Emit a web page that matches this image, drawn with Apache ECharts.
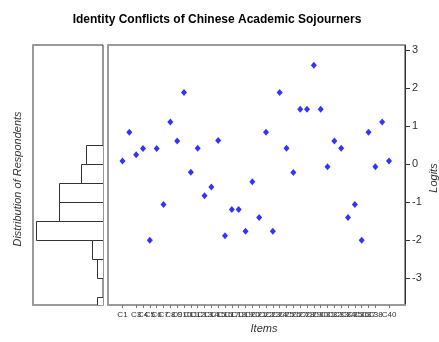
<!DOCTYPE html>
<html>
<head>
<meta charset="utf-8">
<script src="https://cdn.jsdelivr.net/npm/echarts@6/dist/echarts.min.js"></script>
<style>
  html, body { margin: 0; padding: 0; background: #fff; }
  #chart { width: 439px; height: 342px; }
</style>
</head>
<body>
<div id="chart"></div>
<script>
// Item names along the bottom axis
const itemLabels = [
  'C1','C2','C3','C4','C5','C6','C7','C8','C9','C10',
  'C11','C12','C13','C14','C15','C16','C17','C18','C19','C20',
  'C21','C22','C23','C24','C25','C26','C27','C28','C29','C30',
  'C31','C32','C33','C34','C35','C36','C37','C38','C39','C40'
];

// Item difficulty estimates (logits), one per item
const itemLogits = [
  0.08, 0.84, 0.25, 0.41, -2.00, 0.41, -1.06, 1.11, 0.61, 1.88,
  -0.21, 0.42, -0.83, -0.60, 0.62, -1.88, -1.19, -1.19, -1.76, -0.46,
  -1.40, 0.84, -1.76, 1.88, 0.42, -0.22, 1.44, 1.44, 2.60, 1.44,
  -0.07, 0.61, 0.42, -1.40, -1.06, -2.00, 0.84, -0.07, 1.11, 0.08
];

// Respondent ability histogram: bin edges (logits) and counts
const binLower  = [0, -0.5, -1.0, -1.5, -2.0, -2.5, -3.0, -4.0];
const binUpper  = [0.5, 0, -0.5, -1.0, -1.5, -2.0, -2.5, -3.5];
const binCounts = [3, 4, 8, 8, 12, 2, 1, 1];

// Logit tick marks on the right axis
const logitTicks = [-3, -2, -1, 0, 1, 2, 3];

const itemPositions = itemLabels.map((_, i) => i + 1);
const FONT = 'Liberation Sans, Arial, Helvetica, sans-serif';
const LOGIT_MIN = -3.7, LOGIT_MAX = 3.13;

const chart = echarts.init(document.getElementById('chart'), null, { renderer: 'canvas' });

const frameGray = { color: '#9a9a9a', width: 2 };

chart.setOption({
  animation: false,
  backgroundColor: '#fff',
  grid: [
    { left: 33, top: 45, width: 70, height: 260, show: true, borderColor: '#333', borderWidth: 1, backgroundColor: 'transparent' },
    { left: 108, top: 45, width: 297, height: 260, show: true, borderColor: '#333', borderWidth: 1, backgroundColor: 'transparent' }
  ],
  xAxis: [
    {
      gridIndex: 0, type: 'value', inverse: true, min: 0, max: 12.6,
      position: 'bottom',
      axisLine: { show: true, onZero: false, lineStyle: frameGray },
      axisTick: { show: false }, axisLabel: { show: false }, splitLine: { show: false }
    },
    {
      gridIndex: 1, type: 'value', min: -1.12, max: 42.34,
      position: 'bottom',
      axisLine: { show: true, onZero: false, lineStyle: frameGray },
      axisTick: { show: true, customValues: itemPositions, length: 3, lineStyle: { color: '#777' } },
      axisLabel: {
        show: true, customValues: itemPositions, margin: 6, hideOverlap: false,
        showMinLabel: true, showMaxLabel: true,
        fontSize: 8, fontFamily: FONT, color: '#333',
        formatter: v => itemLabels[Math.round(v) - 1] || ''
      },
      splitLine: { show: false }
    }
  ],
  yAxis: [
    {
      gridIndex: 0, type: 'value', min: LOGIT_MIN, max: LOGIT_MAX, position: 'left',
      axisLine: { show: true, onZero: false, lineStyle: frameGray },
      axisTick: { show: false }, axisLabel: { show: false }, splitLine: { show: false }
    },
    {
      gridIndex: 1, type: 'value', min: LOGIT_MIN, max: LOGIT_MAX, position: 'right',
      axisLine: { show: true, onZero: false, lineStyle: { color: '#333', width: 1 } },
      axisTick: { show: true, customValues: logitTicks, length: 5, lineStyle: { color: '#333' } },
      axisLabel: {
        show: true, customValues: logitTicks, margin: 7,
        showMinLabel: true, showMaxLabel: true,
        fontSize: 11, fontFamily: FONT, color: '#333'
      },
      splitLine: { show: false }
    },
    {
      gridIndex: 1, type: 'value', min: LOGIT_MIN, max: LOGIT_MAX, position: 'left',
      axisLine: { show: true, onZero: false, lineStyle: frameGray },
      axisTick: { show: false }, axisLabel: { show: false }, splitLine: { show: false }
    }
  ],
  series: [
    {
      type: 'custom',
      xAxisIndex: 0, yAxisIndex: 0,
      clip: true,
      data: binCounts.map((n, i) => [binLower[i], binUpper[i], n]),
      encode: { x: 2, y: [0, 1] },
      renderItem: function (params, api) {
        const lo = api.value(0), hi = api.value(1), n = api.value(2);
        const a = api.coord([0, hi]);
        const b = api.coord([n, lo]);
        const x0 = Math.round(Math.min(a[0], b[0])) + 0.5;
        const x1 = Math.round(Math.max(a[0], b[0])) + 0.5;
        const y0 = Math.round(Math.min(a[1], b[1])) + 0.5;
        const y1 = Math.round(Math.max(a[1], b[1])) + 0.5;
        return {
          type: 'rect',
          shape: { x: x0, y: y0, width: x1 - x0, height: y1 - y0 },
          style: { fill: '#fff', stroke: '#333', lineWidth: 1 }
        };
      },
      z: 3
    },
    {
      type: 'scatter',
      xAxisIndex: 1, yAxisIndex: 1,
      symbol: 'diamond',
      symbolSize: [6, 7],
      itemStyle: { color: '#0000ff' },
      data: itemLogits.map((v, i) => [itemPositions[i], v]),
      z: 4
    }
  ],
  graphic: [
    {
      type: 'text', x: 217, y: 20,
      style: {
        text: 'Identity Conflicts of Chinese Academic Sojourners',
        font: 'bold 12px ' + FONT, fill: '#000',
        textAlign: 'center', textVerticalAlign: 'middle'
      }
    },
    {
      type: 'text', x: 264, y: 329,
      style: {
        text: 'Items', font: 'italic 11px ' + FONT, fill: '#333',
        textAlign: 'center', textVerticalAlign: 'middle'
      }
    },
    {
      type: 'text', x: 17.5, y: 179, rotation: Math.PI / 2,
      style: {
        text: 'Distribution of Respondents', font: 'italic 11px ' + FONT, fill: '#333',
        textAlign: 'center', textVerticalAlign: 'middle'
      }
    },
    {
      type: 'text', x: 434, y: 178, rotation: Math.PI / 2,
      style: {
        text: 'Logits', font: 'italic 11px ' + FONT, fill: '#333',
        textAlign: 'center', textVerticalAlign: 'middle'
      }
    }
  ]
});
</script>
</body>
</html>
